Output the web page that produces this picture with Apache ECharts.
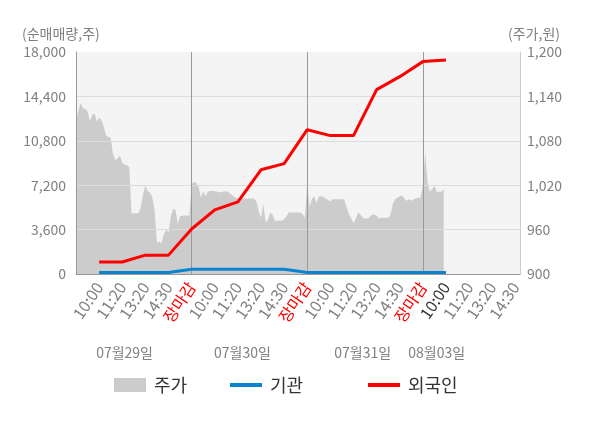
<!DOCTYPE html>
<html>
<head>
<meta charset="utf-8">
<script src="https://cdn.jsdelivr.net/npm/echarts@6/dist/echarts.min.js"></script>
<style>
  html, body { margin: 0; padding: 0; background: #fff; }
  #chart { width: 600px; height: 428px; }
</style>
</head>
<body>
<div id="chart"></div>
<script>
// tick labels along the time axis (one every 10 slots, starting at slot 10)
const timeLabels = ['10:00', '11:20', '13:20', '14:30', '장마감',
                    '10:00', '11:20', '13:20', '14:30', '장마감',
                    '10:00', '11:20', '13:20', '14:30', '장마감',
                    '10:00', '11:20', '13:20', '14:30'];
const dateLabels = ['07월29일', '07월30일', '07월31일', '08월03일'];
const dateSlots = [21, 72, 124, 156];

// 주가 (원), one value per slot from 09:00 of day 1
const price = [
  1107, 1120, 1131, 1124, 1123, 1120, 1106, 1115, 1117, 1106,
  1111, 1108, 1099, 1087, 1085, 1084, 1062, 1054, 1056, 1060,
  1050, 1048, 1047, 1045, 982, 982, 982, 982, 990, 1008,
  1020, 1012, 1010, 1004, 985, 942, 944, 942, 954, 960,
  956, 978, 988, 987, 968, 978, 979, 979, 979, 979,
  1021, 1025, 1023, 1018, 1003, 1012, 1005, 1011, 1012, 1012,
  1012, 1011, 1010, 1011, 1011, 1012, 1010, 1008, 1005, 1003,
  1002, 1002, 1002, 1002, 1002, 1002, 1002, 1002, 998, 985,
  976, 995, 970, 973, 983, 980, 972, 972, 972, 972,
  974, 978, 983, 983, 983, 983, 983, 983, 981, 976,
  1024, 990, 1002, 1005, 996, 1005, 1005, 1004, 1002, 1000,
  998, 1001, 1001, 1001, 1001, 1001, 1001, 990, 981, 975,
  969, 975, 983, 980, 976, 975, 975, 977, 980, 980,
  979, 975, 976, 976, 976, 976, 980, 995, 1001, 1003,
  1005, 1006, 1002, 999, 1001, 999, 1001, 1002, 1003, 1003,
  1020, 1064, 1025, 1011, 1015, 1019, 1011, 1011, 1011, 1015
];

// cumulative net buying (주), one value per labelled tick from day 1 10:00
const institution = [120, 120, 120, 120, 380, 380, 380, 380, 380, 120, 120, 120, 120, 120, 120, 120];
const foreign = [973, 973, 1530, 1530, 3650, 5200, 5850, 8450, 8950, 11700, 11220, 11220, 14950, 16000, 17220, 17350];

const SLOTS = 193;
const STEP = 10;
const FONT = "'Noto Sans CJK KR', 'Noto Sans', sans-serif";

const categories = Array.from({ length: SLOTS }, (_, i) => String(i));
const labelAt = i => (i > 0 && i % STEP === 0) ? timeLabels[i / STEP - 1] : undefined;
const nowSlot = Math.ceil((price.length - 1) / STEP) * STEP;

function toSlots(values) {
  const out = new Array(SLOTS).fill(null);
  values.forEach((v, k) => { out[STEP + k * STEP] = v; });
  return out;
}

const comma = v => String(v).replace(/\B(?=(\d{3})+(?!\d))/g, ',');

const chart = echarts.init(document.getElementById('chart'));

// one legend per item so each sits where the original puts it
const legendItems = [
  { name: '주가', left: 114, height: 14 },
  { name: '기관', left: 230, height: 4 },
  { name: '외국인', left: 368, height: 4 }
];

chart.setOption({
  animation: false,
  textStyle: { fontFamily: FONT },
  grid: {
    left: 76, right: 80, top: 52, bottom: 154,
    show: true, backgroundColor: '#f4f4f4', borderWidth: 0
  },
  legend: legendItems.map(l => ({
    left: l.left, top: 376, padding: 0,
    data: [{ name: l.name, icon: 'rect' }],
    itemWidth: 32, itemHeight: l.height,
    textStyle: { fontSize: 18, color: '#333', fontFamily: FONT, padding: [0, 0, 0, 3], lineHeight: 18 },
    selectedMode: false
  })),
  xAxis: [
    {
      type: 'category', data: categories, boundaryGap: false, z: 3,
      axisLine: { lineStyle: { color: '#999' } },
      axisTick: { show: false },
      splitLine: {
        show: true,
        interval: i => labelAt(i) === '장마감',
        lineStyle: { color: '#999', width: 1 }
      },
      axisLabel: {
        interval: i => labelAt(i) !== undefined,
        rotate: 56, margin: 10, fontSize: 16, color: '#808080', fontFamily: FONT,
        formatter: (v, i) => {
          const t = labelAt(i);
          if (t === '장마감') return '{close|' + t + '}';
          if (i === nowSlot) return '{now|' + t + '}';
          return t;
        },
        rich: {
          close: { color: '#ff0000', fontSize: 16, fontFamily: FONT },
          now: { color: '#333', fontSize: 16, fontFamily: FONT }
        }
      }
    },
    {
      type: 'category', data: categories, boundaryGap: false,
      position: 'bottom', offset: 64,
      axisLine: { show: false }, axisTick: { show: false }, splitLine: { show: false },
      axisLabel: {
        interval: i => dateSlots.includes(i),
        formatter: (v, i) => dateLabels[dateSlots.indexOf(i)],
        fontSize: 14, color: '#808080', fontFamily: FONT
      }
    }
  ],
  yAxis: [
    {
      type: 'value', min: 0, max: 18000, interval: 3600, z: 3,
      name: '(순매매량,주)', nameLocation: 'end', nameGap: 11,
      nameTextStyle: { fontSize: 14, color: '#808080', align: 'left', padding: [0, 0, 0, -54], fontFamily: FONT },
      axisLine: { show: true, lineStyle: { color: '#999' } },
      axisTick: { show: false },
      splitLine: { lineStyle: { color: ['#999', '#dcdcdc', '#dcdcdc', '#dcdcdc', '#dcdcdc', '#f4f4f4'] } },
      axisLabel: { fontSize: 14, color: '#808080', margin: 10, formatter: comma, fontFamily: FONT }
    },
    {
      type: 'value', min: 900, max: 1200, interval: 60, position: 'right',
      name: '(주가,원)', nameLocation: 'end', nameGap: 11,
      nameTextStyle: { fontSize: 14, color: '#808080', align: 'left', padding: [0, 0, 0, -12], fontFamily: FONT },
      axisLine: { show: true, lineStyle: { color: '#cccccc' } },
      axisTick: { show: false },
      splitLine: { show: false },
      axisLabel: { fontSize: 14, color: '#808080', margin: 7, formatter: comma, fontFamily: FONT }
    }
  ],
  series: [
    {
      name: '주가', type: 'line', yAxisIndex: 1, z: 2,
      data: price, symbol: 'none',
      lineStyle: { width: 0 },
      itemStyle: { color: '#cccccc' },
      areaStyle: { color: '#cccccc', opacity: 1 }
    },
    {
      name: '기관', type: 'line', yAxisIndex: 0, z: 5,
      data: toSlots(institution), connectNulls: true, symbol: 'none',
      itemStyle: { color: '#0a84d0' },
      lineStyle: { color: '#0a84d0', width: 3 }
    },
    {
      name: '외국인', type: 'line', yAxisIndex: 0, z: 6,
      data: toSlots(foreign), connectNulls: true, symbol: 'none',
      itemStyle: { color: '#ff0000' },
      lineStyle: { color: '#ff0000', width: 3 }
    }
  ]
});

window.addEventListener('resize', () => chart.resize());
</script>
</body>
</html>
